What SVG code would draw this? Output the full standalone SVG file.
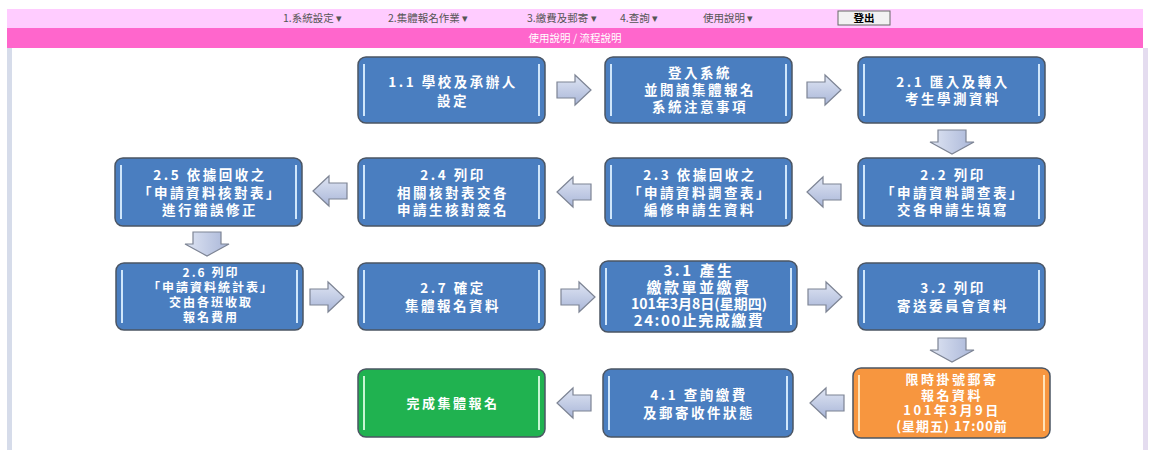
<svg xmlns="http://www.w3.org/2000/svg" width="1150" height="450" viewBox="0 0 1150 450">
<defs>
<linearGradient id="gArrow" x1="0" y1="0" x2="0" y2="1">
<stop offset="0" stop-color="#dfe5f3"/><stop offset="1" stop-color="#a9b6d8"/>
</linearGradient>
<linearGradient id="gArrowV" x1="0" y1="0" x2="1" y2="0">
<stop offset="0" stop-color="#dfe5f3"/><stop offset="1" stop-color="#a9b6d8"/>
</linearGradient>
<path id="arR" d="M-17,-8 H1 V-15 L17,0 L1,15 V8 H-17 Z"/>
<path id="arL" d="M17,-8 H-1 V-15 L-17,0 L-1,15 V8 H17 Z"/>
<path id="arD" d="M-14,-12 H14 V0 H22 L0,12 L-22,0 H-14 Z"/>
</defs>
<style>
.bar1{fill:#ffccff}
.bar2{fill:#ff66cc}
.menu{font-family:"Noto Sans CJK TC","Noto Sans",sans-serif;font-size:10.5px;fill:#555;}
.sub{font-family:"Noto Sans CJK TC","Noto Sans",sans-serif;font-size:10.5px;fill:#fff;text-anchor:middle}
.box{stroke:#4b5563;stroke-width:1.5}
.blue{fill:#4a7ec0}
.green{fill:#20b250}
.orange{fill:#f7963f}
.hl{stroke:#cfe6fb;stroke-width:2;fill:none}
.hlo{stroke:#ffe3b8;stroke-width:2;fill:none}
.hlg{stroke:#c8f5d2;stroke-width:2;fill:none}
.t{font-family:"Noto Sans CJK TC","Noto Sans",sans-serif;font-size:13.5px;font-weight:bold;fill:#fff;text-anchor:middle;letter-spacing:2.5px}
.ts{font-size:12px;letter-spacing:2px}
.arr{fill:url(#gArrow);stroke:#7d8494;stroke-width:1.2}
.arrv{fill:url(#gArrowV);stroke:#7d8494;stroke-width:1.2}
</style>
<rect width="1150" height="450" fill="#ffffff"/>
<rect class="bar1" x="7" y="9" width="1136" height="19"/>
<rect class="bar2" x="7" y="28" width="1136" height="20"/>
<rect x="7" y="48" width="5" height="402" fill="#d6dcea"/>
<rect x="1143" y="48" width="5" height="402" fill="#e4dcef"/>
<g id="menu">
<text class="menu" x="283" y="22">1.系統設定 ▾</text>
<text class="menu" x="388" y="22">2.集體報名作業 ▾</text>
<text class="menu" x="527" y="22">3.繳費及郵寄 ▾</text>
<text class="menu" x="620" y="22">4.查詢 ▾</text>
<text class="menu" x="703" y="22">使用說明 ▾</text>
<rect x="838" y="11" width="52" height="14" fill="#f2f2f2" stroke="#666" stroke-width="1"/>
<text class="menu" x="864" y="22" text-anchor="middle" style="fill:#000;font-weight:bold">登出</text>
<text class="sub" x="575" y="42">使用說明 / 流程說明</text>
</g>
<g id="connectors">
<use href="#arR" class="arr" x="574" y="90"/>
<use href="#arR" class="arr" x="824" y="90"/>
<use href="#arD" class="arrv" x="952" y="142"/>
<use href="#arL" class="arr" x="824" y="192"/>
<use href="#arL" class="arr" x="574" y="192"/>
<use href="#arL" class="arr" x="330" y="191"/>
<use href="#arD" class="arrv" x="207" y="244"/>
<use href="#arR" class="arr" x="327" y="297"/>
<use href="#arR" class="arr" x="578" y="297"/>
<use href="#arR" class="arr" x="825" y="297"/>
<use href="#arD" class="arrv" x="952" y="350"/>
<use href="#arL" class="arr" x="827" y="403"/>
<use href="#arL" class="arr" x="574" y="403"/>
</g>
<g id="n11">
<rect class="box blue" x="358" y="57" width="187" height="66" rx="8"/>
<path class="hl" d="M364,64 V116 M539,64 V116"/>
<text class="t" x="453" y="87">1.1 學校及承辦人</text>
<text class="t" x="453" y="106">設定</text>
</g>
<g id="nLogin">
<rect class="box blue" x="605" y="57" width="187" height="66" rx="8"/>
<path class="hl" d="M611,64 V116 M786,64 V116"/>
<text class="t" x="700" y="78">登入系統</text>
<text class="t" x="700" y="95">並閱讀集體報名</text>
<text class="t" x="700" y="112">系統注意事項</text>
</g>
<g id="n21">
<rect class="box blue" x="858" y="57" width="187" height="66" rx="8"/>
<path class="hl" d="M864,64 V116 M1039,64 V116"/>
<text class="t" x="953" y="87">2.1 匯入及轉入</text>
<text class="t" x="953" y="104">考生學測資料</text>
</g>
<g id="n22">
<rect class="box blue" x="858" y="158" width="187" height="68" rx="8"/>
<path class="hl" d="M864,165 V219 M1039,165 V219"/>
<text class="t" x="953" y="180">2.2 列印</text>
<text class="t" x="953" y="198">「申請資料調查表」</text>
<text class="t" x="953" y="215">交各申請生填寫</text>
</g>
<g id="n23">
<rect class="box blue" x="605" y="158" width="187" height="68" rx="8"/>
<path class="hl" d="M611,165 V219 M786,165 V219"/>
<text class="t" x="700" y="180">2.3 依據回收之</text>
<text class="t" x="700" y="198">「申請資料調查表」</text>
<text class="t" x="700" y="215">編修申請生資料</text>
</g>
<g id="n24">
<rect class="box blue" x="358" y="158" width="187" height="68" rx="8"/>
<path class="hl" d="M364,165 V219 M539,165 V219"/>
<text class="t" x="453" y="180">2.4 列印</text>
<text class="t" x="453" y="198">相關核對表交各</text>
<text class="t" x="453" y="215">申請生核對簽名</text>
</g>
<g id="n25">
<rect class="box blue" x="115" y="158" width="187" height="68" rx="8"/>
<path class="hl" d="M121,165 V219 M296,165 V219"/>
<text class="t" x="210" y="180">2.5 依據回收之</text>
<text class="t" x="210" y="198">「申請資料核對表」</text>
<text class="t" x="210" y="215">進行錯誤修正</text>
</g>
<g id="n26">
<rect class="box blue" x="116" y="263" width="187" height="67" rx="8"/>
<path class="hl" d="M122,270 V323 M297,270 V323"/>
<text class="t ts" x="211" y="277">2.6 列印</text>
<text class="t ts" x="211" y="292">「申請資料統計表」</text>
<text class="t ts" x="211" y="307">交由各班收取</text>
<text class="t ts" x="211" y="322">報名費用</text>
</g>
<g id="n27">
<rect class="box blue" x="358" y="263" width="187" height="67" rx="8"/>
<path class="hl" d="M364,270 V323 M539,270 V323"/>
<text class="t" x="453" y="293">2.7 確定</text>
<text class="t" x="453" y="311">集體報名資料</text>
</g>
<g id="n31">
<rect class="box blue" x="600" y="261" width="197" height="71" rx="8"/>
<path class="hl" d="M606,268 V325 M791,268 V325"/>
<text class="t" x="699" y="276" style="font-size:15px">3.1 產生</text>
<text class="t" x="699" y="293" style="font-size:15px">繳款單並繳費</text>
<text class="t" x="699" y="309" style="font-size:14px;letter-spacing:0px">101年3月8日(星期四)</text>
<text class="t" x="699" y="326" style="font-size:15px;letter-spacing:1.5px">24:00止完成繳費</text>
</g>
<g id="n32">
<rect class="box blue" x="858" y="263" width="187" height="67" rx="8"/>
<path class="hl" d="M864,270 V323 M1039,270 V323"/>
<text class="t" x="953" y="293">3.2 列印</text>
<text class="t" x="953" y="311">寄送委員會資料</text>
</g>
<g id="nMail">
<rect class="box orange" x="853" y="368" width="197" height="70" rx="8"/>
<path class="hlo" d="M859,375 V431 M1044,375 V431"/>
<text class="t" x="952" y="384" style="font-size:13px">限時掛號郵寄</text>
<text class="t" x="952" y="399.5" style="font-size:13px">報名資料</text>
<text class="t" x="952" y="415" style="font-size:13px">101年3月9日</text>
<text class="t" x="952" y="430.5" style="font-size:13px;letter-spacing:1px">(星期五) 17:00前</text>
</g>
<g id="n41">
<rect class="box blue" x="603" y="369" width="190" height="68" rx="8"/>
<path class="hl" d="M609,376 V430 M787,376 V430"/>
<text class="t" x="699" y="400">4.1 查詢繳費</text>
<text class="t" x="699" y="418">及郵寄收件狀態</text>
</g>
<g id="nDone">
<rect class="box green" x="358" y="369" width="187" height="68" rx="8"/>
<path class="hlg" d="M364,376 V430 M539,376 V430"/>
<text class="t" x="453" y="408" style="font-size:13px">完成集體報名</text>
</g>
</svg>
